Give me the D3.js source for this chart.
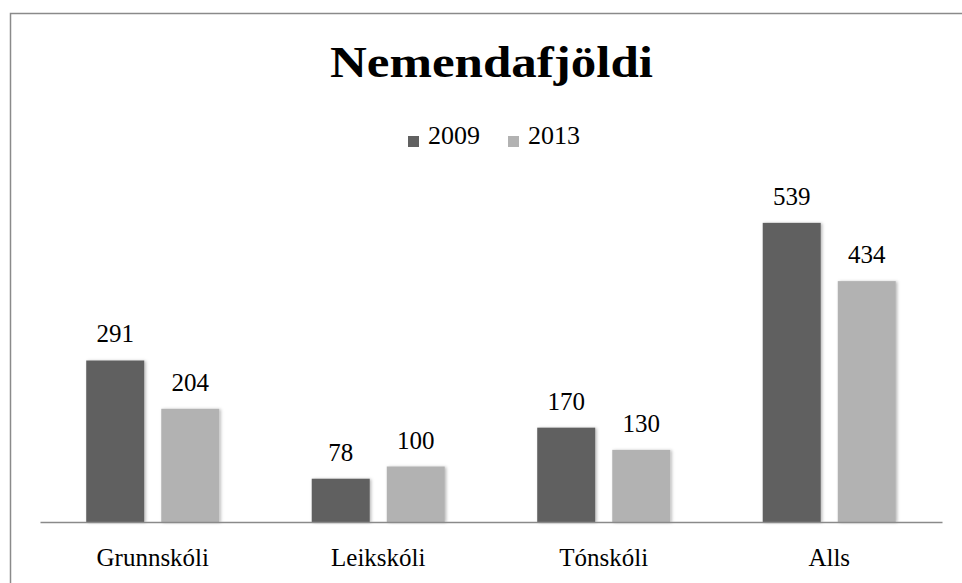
<!DOCTYPE html>
<html>
<head>
<meta charset="utf-8">
<script src="https://cdn.jsdelivr.net/npm/d3@7"></script>
<style>
  body { margin: 0; background: #fff; }
  text { font-family: "Liberation Serif", Cambria, serif; fill: #000; }
</style>
</head>
<body>
<svg width="962" height="583"></svg>
<script>
var categories = ["Grunnskóli", "Leikskóli", "Tónskóli", "Alls"];
var years = ["2009", "2013"];
var values2009 = [291, 78, 170, 539];
var values2013 = [204, 100, 130, 434];
var colors = ["#616161", "#b2b2b2"];

var svg = d3.select("svg"),
    width = +svg.attr("width"),
    height = +svg.attr("height");

var rows = categories.map(function(c, i) {
  return {cat: c, vals: [values2009[i], values2013[i]]};
});

// soft shadow like the office chart
var defs = svg.append("defs");
var f = defs.append("filter").attr("id", "shadow")
    .attr("x", "-20%").attr("y", "-5%").attr("width", "140%").attr("height", "110%");
f.append("feDropShadow")
    .attr("dx", 1.5).attr("dy", 0.5)
    .attr("stdDeviation", 1.8)
    .attr("flood-color", "#000")
    .attr("flood-opacity", 0.28);

// frame
svg.append("rect")
    .attr("x", 10.5).attr("y", 13.5)
    .attr("width", 1000).attr("height", 700)
    .attr("fill", "none")
    .attr("stroke", "#8a8a8a")
    .attr("stroke-width", 1.5);

var x0 = d3.scaleBand()
    .domain(categories)
    .range([40, 942])
    .paddingInner(0.41)
    .paddingOuter(0.205);

var x1 = d3.scaleBand()
    .domain(d3.range(years.length))
    .range([0, x0.bandwidth()])
    .paddingInner(0.227);

var y = d3.scaleLinear()
    .domain([0, 600])
    .range([522, 189]);

// title
svg.append("text")
    .attr("x", 491.5)
    .attr("y", 77)
    .attr("text-anchor", "middle")
    .attr("font-size", "45px")
    .attr("font-weight", "bold")
    .attr("textLength", 323)
    .attr("lengthAdjust", "spacingAndGlyphs")
    .text("Nemendafjöldi");

// legend
var legendX = [408, 508];
var leg = svg.append("g").attr("class", "legend");
years.forEach(function(yr, i) {
  leg.append("rect")
      .attr("x", legendX[i]).attr("y", 136)
      .attr("width", 11).attr("height", 11)
      .attr("fill", colors[i]);
  leg.append("text")
      .attr("x", legendX[i] + 20).attr("y", 143.5)
      .attr("font-size", "26px")
      .text(yr);
});

// bars
var groups = svg.append("g")
  .selectAll("g")
  .data(rows)
  .enter().append("g")
    .attr("transform", function(d) { return "translate(" + x0(d.cat) + ",0)"; });

groups.selectAll("rect")
  .data(function(d) { return d.vals.map(function(v, i) { return {i: i, v: v}; }); })
  .enter().append("rect")
    .attr("x", function(d) { return x1(d.i); })
    .attr("y", function(d) { return y(d.v); })
    .attr("width", x1.bandwidth())
    .attr("height", function(d) { return y(0) - y(d.v); })
    .attr("fill", function(d) { return colors[d.i]; })
    .attr("filter", "url(#shadow)");

groups.selectAll("text.val")
  .data(function(d) { return d.vals.map(function(v, i) { return {i: i, v: v}; }); })
  .enter().append("text")
    .attr("class", "val")
    .attr("x", function(d) { return x1(d.i) + x1.bandwidth() / 2; })
    .attr("y", function(d) { return y(d.v) - 18; })
    .attr("text-anchor", "middle")
    .attr("font-size", "25px")
    .text(function(d) { return d.v; });

// axis
var axis = svg.append("g")
    .attr("transform", "translate(0," + y(0) + ")")
    .call(d3.axisBottom(x0).tickSize(0).tickPadding(26));
axis.select(".domain")
    .attr("stroke", "#8a8a8a")
    .attr("stroke-width", 1.6);
axis.selectAll(".tick text")
    .attr("font-family", "Liberation Serif, serif")
    .attr("font-size", "25px")
    .attr("fill", "#000");
</script>
</body>
</html>
